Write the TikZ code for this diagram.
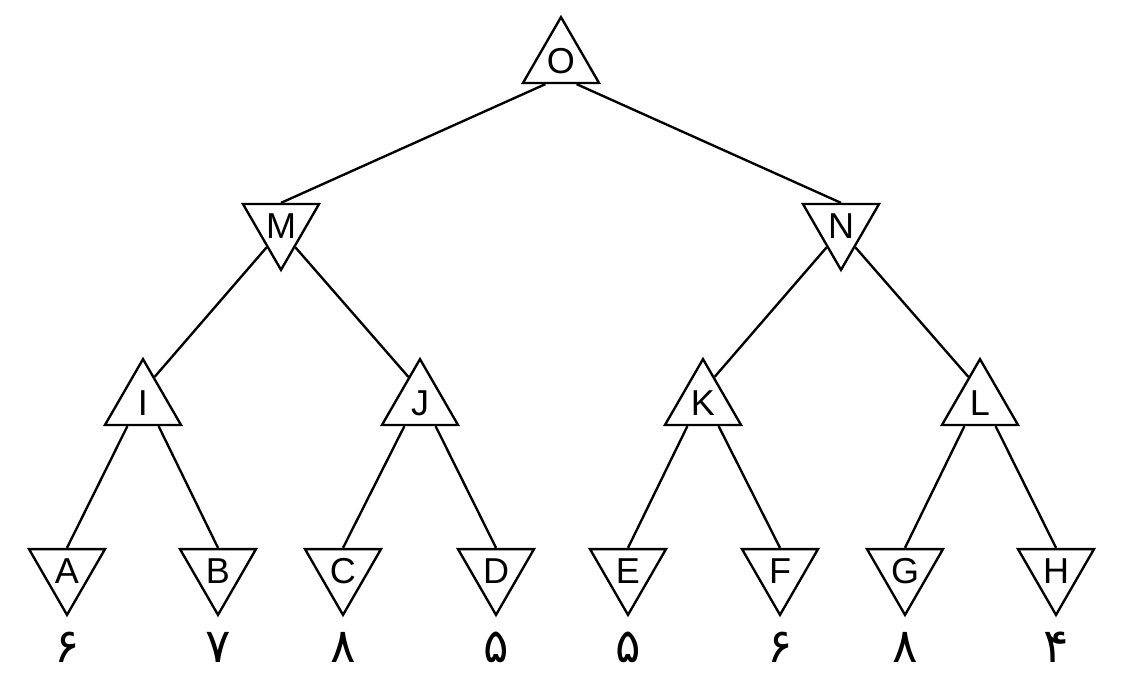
\documentclass[tikz,border=0pt]{standalone}
\usepackage{fontspec}
\setmainfont{Liberation Sans}
\newfontfamily\arabicfont[Script=Arabic]{DejaVu Sans}
\TeXXeTstate=1
\usetikzlibrary{shapes.geometric}

\tikzset{
  maxnode/.style={regular polygon, regular polygon sides=3, draw, line width=1.35pt,
    minimum size=1.756cm, inner sep=0pt, fill=white, font=\fontsize{20.5}{24}\selectfont},
  minnode/.style={maxnode, regular polygon rotate=180},
  link/.style={line width=1.35pt},
  score/.style={inner sep=0pt, font=\arabicfont\fontsize{27}{30}\selectfont}
}

\begin{document}
\begin{tikzpicture}[x=0.02cm, y=-0.02cm]
  \useasboundingbox (0,0) rectangle (1129,680);

  % Root
  \node[maxnode] (O) at (561,61) {O};

  % Second level
  \node[minnode] (M) at (281,226) {M};
  \node[minnode] (N) at (841,226) {N};

  % Third level
  \foreach \n/\x in {I/143, J/420, K/703, L/980} {
    \node[maxnode] (\n) at (\x,403) {\n};
  }

  % Leaves with their values
  \foreach \n/\x/\v in {A/67/۶, B/218/۷, C/343/۸, D/496/۵, E/628/۵, F/780/۶, G/905/۸, H/1056/۴} {
    \node[minnode] (\n) at (\x,571) {\n};
    \node[score] (v\n) at (\x,647) {\beginR\v\endR};
  }

  % Connectors
  \draw[link] (O.236) -- (M.90);
  \draw[link] (O.304) -- (N.90);
  \foreach \p/\l/\r in {M/I/J, N/K/L} {
    \draw[link] (\p.236) -- (\l.66);
    \draw[link] (\p.304) -- (\r.114);
  }
  \foreach \p/\l/\r in {I/A/B, J/C/D, K/E/F, L/G/H} {
    \draw[link] (\p.236) -- (\l.90);
    \draw[link] (\p.304) -- (\r.90);
  }
\end{tikzpicture}
\end{document}
